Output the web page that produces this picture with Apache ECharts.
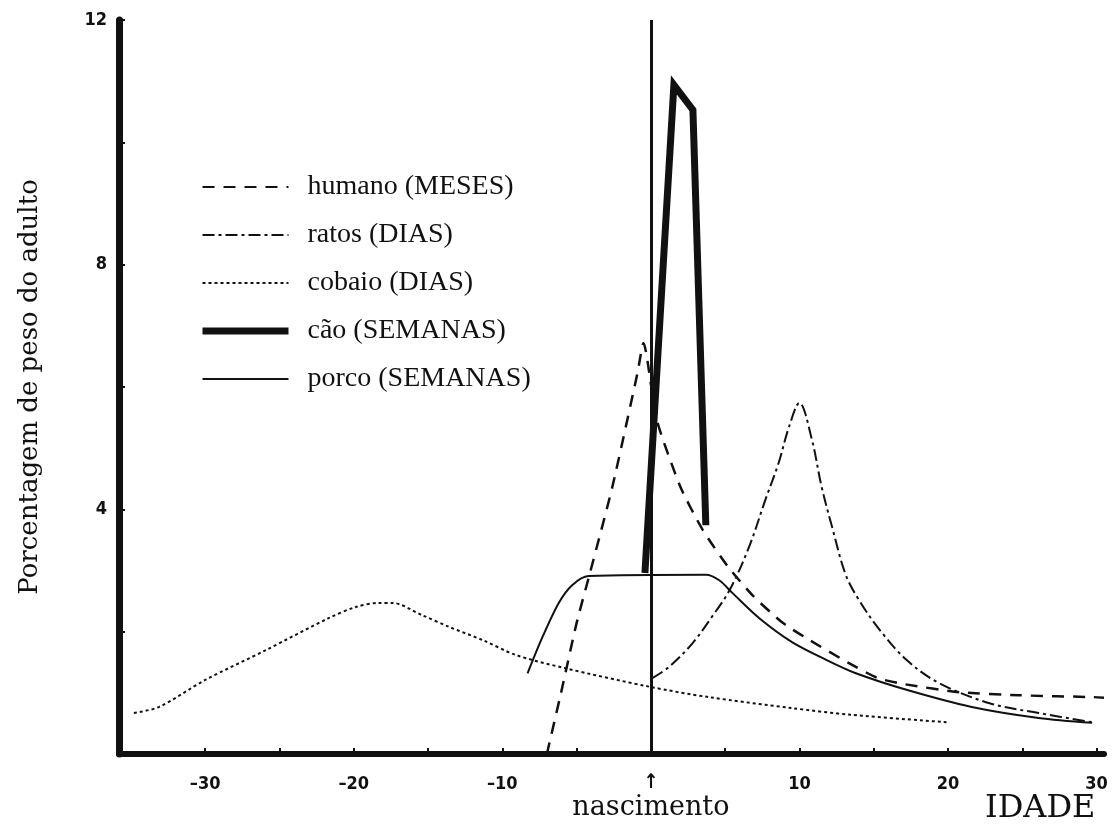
<!DOCTYPE html>
<html>
<head>
<meta charset="utf-8">
<script src="https://cdn.jsdelivr.net/npm/echarts@6/dist/echarts.min.js"></script>
<style>
  html, body { margin: 0; padding: 0; background: #fff; }
  #chart { width: 1112px; height: 827px; }
</style>
</head>
<body>
<div id="chart"></div>
<script>
// idade (x) e porcentagem de peso do adulto (y)
const humanoIdade = [-7.0, -6.0, -5.0, -4.1, -2.6, -0.9, -0.5, 0.4, 2.0, 3.5, 5.2, 6.9, 8.9, 10.7, 13.3, 15.3, 17.1, 20.8, 24.8, 29.8, 30.5];
const humanoPeso  = [0.0, 1.05, 2.14, 2.96, 4.36, 6.23, 6.72, 5.46, 4.36, 3.66, 3.06, 2.58, 2.14, 1.86, 1.49, 1.24, 1.14, 1.01, 0.96, 0.93, 0.92];

const ratosIdade = [0.1, 1.2, 2.8, 4.1, 5.3, 6.6, 7.7, 8.6, 9.3, 10.0, 10.8, 11.5, 12.2, 13.1, 14.0, 15.4, 17.2, 19.4, 22.8, 26.1, 29.7];
const ratosPeso  = [1.24, 1.42, 1.81, 2.24, 2.68, 3.38, 4.15, 4.76, 5.35, 5.74, 5.18, 4.36, 3.71, 2.94, 2.52, 2.03, 1.54, 1.16, 0.83, 0.67, 0.52];

const cobaioIdade = [-34.8, -33.1, -30.0, -25.9, -21.7, -19.9, -18.3, -17.4, -15.4, -13.6, -11.3, -9.1, -5.9, -0.1, 3.9, 9.5, 13.5, 19.9];
const cobaioPeso  = [0.67, 0.77, 1.21, 1.70, 2.22, 2.40, 2.47, 2.47, 2.27, 2.08, 1.86, 1.62, 1.41, 1.10, 0.93, 0.75, 0.64, 0.52];

const caoIdade = [-0.4, 1.55, 2.83, 3.7];
const caoPeso  = [2.96, 10.94, 10.53, 3.74];

const porcoIdade = [-8.3, -7.3, -6.2, -5.3, -4.2, 3.7, 4.6, 5.5, 7.3, 9.5, 11.8, 13.8, 17.2, 21.6, 26.1, 29.7];
const porcoPeso  = [1.32, 1.91, 2.47, 2.76, 2.91, 2.93, 2.84, 2.63, 2.22, 1.83, 1.54, 1.32, 1.05, 0.77, 0.59, 0.51];

const nomes = ['humano (MESES)', 'ratos (DIAS)', 'cobaio (DIAS)', 'cão (SEMANAS)', 'porco (SEMANAS)'];
const xLabels = [-30, -20, -10, 0, 10, 20, 30];
const xTicks = [-30, -25, -20, -15, -10, -5, 0, 5, 10, 15, 20, 25, 30];
const yLabels = [4, 8, 12];
const nascimento = 0;

const pares = (xs, ys) => xs.map((x, i) => [x, ys[i]]);
const ink = '#111';
const digitFont = "'Liberation Sans Narrow', 'DejaVu Sans Condensed', 'Liberation Sans', sans-serif";

const chart = echarts.init(document.getElementById('chart'));

chart.setOption({
  animation: false,
  backgroundColor: '#fff',
  grid: { left: 119, right: 8, top: 20, bottom: 73 },
  legend: {
    orient: 'vertical',
    left: 194,
    top: 168,
    itemWidth: 86,
    itemHeight: 14,
    itemGap: 20,
    itemStyle: { color: 'transparent', borderColor: 'transparent', borderWidth: 0 },
    data: nomes.map((n, i) => i === 3 ? { name: n, lineStyle: { width: 7 } } : { name: n }),
    textStyle: { fontFamily: 'Liberation Serif', fontSize: 28, color: ink, padding: [0, 0, 0, 14] }
  },
  xAxis: {
    type: 'value',
    min: -35.8,
    max: 30.5,
    splitLine: { show: false },
    axisLine: { onZero: false, lineStyle: { color: ink, width: 6 } },
    axisTick: { show: true, inside: true, length: 6, customValues: xTicks, lineStyle: { color: ink, width: 2 } },
    axisLabel: {
      customValues: xLabels,
      margin: 21,
      color: ink,
      fontFamily: digitFont,
      fontWeight: 'bold',
      fontSize: 18,
      formatter: v => v === nascimento ? '{a|↑}\n{b|nascimento}' : (v < 0 ? '–' + Math.abs(v) : String(v)),
      rich: {
        a: { fontSize: 20, fontWeight: 'bold', lineHeight: 16, color: ink },
        b: { fontFamily: 'DejaVu Serif', fontSize: 27, lineHeight: 34, color: ink, fontWeight: 'normal' }
      }
    }
  },
  yAxis: {
    type: 'value',
    min: 0,
    max: 12,
    interval: 2,
    name: 'Porcentagem de peso do adulto',
    nameLocation: 'middle',
    nameRotate: 90,
    nameGap: 76,
    nameTextStyle: { fontFamily: 'DejaVu Serif', fontSize: 26, color: ink },
    splitLine: { show: false },
    axisLine: { show: true, onZero: false, lineStyle: { color: ink, width: 7 } },
    axisTick: { show: true, inside: true, length: 6, lineStyle: { color: ink, width: 2 } },
    axisLabel: { customValues: yLabels, margin: 12, color: ink, fontFamily: digitFont, fontWeight: 'bold', fontSize: 18 }
  },
  graphic: [
    { type: 'text', left: 985, top: 793, style: { text: 'IDADE', font: '32px "DejaVu Serif"', fill: ink } }
  ],
  series: [
    {
      name: nomes[0], type: 'line', data: pares(humanoIdade, humanoPeso),
      symbol: 'none', smooth: 0.2,
      lineStyle: { color: ink, width: 2.5, type: [12, 9] },
      itemStyle: { color: ink }
    },
    {
      name: nomes[1], type: 'line', data: pares(ratosIdade, ratosPeso),
      symbol: 'none', smooth: 0.35,
      lineStyle: { color: ink, width: 2, type: [12, 4, 3, 4] },
      itemStyle: { color: ink }
    },
    {
      name: nomes[2], type: 'line', data: pares(cobaioIdade, cobaioPeso),
      symbol: 'none', smooth: 0.3,
      lineStyle: { color: ink, width: 2, type: [3, 3] },
      itemStyle: { color: ink }
    },
    {
      name: nomes[3], type: 'line', data: pares(caoIdade, caoPeso),
      symbol: 'none', smooth: false,
      lineStyle: { color: ink, width: 7, join: 'miter' },
      itemStyle: { color: ink },
      markLine: {
        silent: true, symbol: 'none', label: { show: false },
        lineStyle: { color: ink, width: 3, type: 'solid' },
        data: [{ xAxis: nascimento }]
      }
    },
    {
      name: nomes[4], type: 'line', data: pares(porcoIdade, porcoPeso),
      symbol: 'none', smooth: 0.3,
      lineStyle: { color: ink, width: 2 },
      itemStyle: { color: ink }
    }
  ]
});
</script>
</body>
</html>
